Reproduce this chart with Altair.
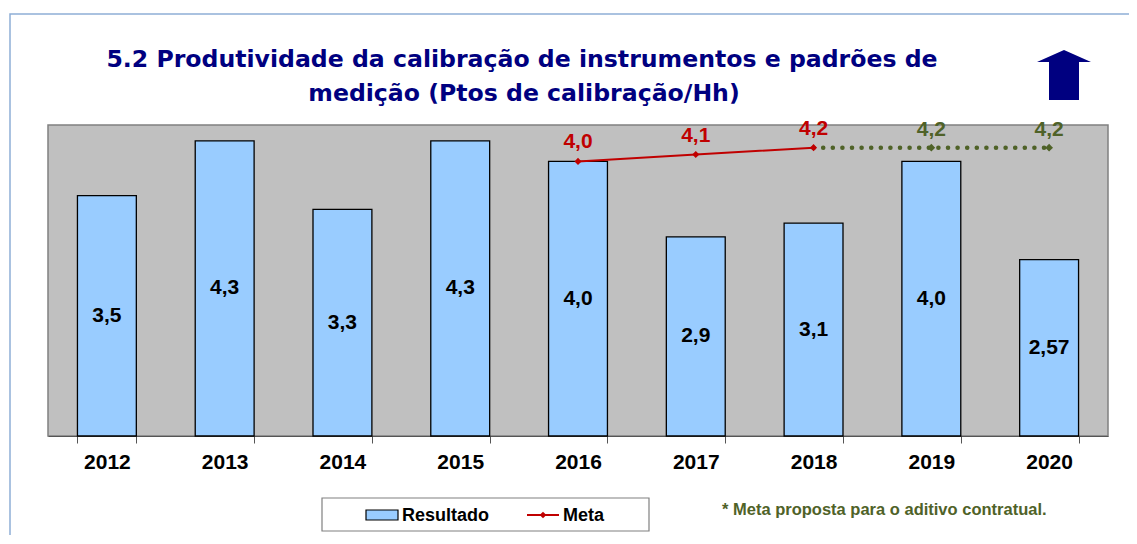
import altair as alt
import pandas as pd

# ---- data ----
years = ["2012", "2013", "2014", "2015", "2016", "2017", "2018", "2019", "2020"]
resultado = [3.5, 4.3, 3.3, 4.3, 4.0, 2.9, 3.1, 4.0, 2.57]
resultado_labels = ["3,5", "4,3", "3,3", "4,3", "4,0", "2,9", "3,1", "4,0", "2,57"]

meta_years = ["2016", "2017", "2018"]
meta = [4.0, 4.1, 4.2]
meta_labels = ["4,0", "4,1", "4,2"]

prop_years = ["2018", "2019", "2020"]
prop = [4.2, 4.2, 4.2]
prop_labels = ["", "4,2", "4,2"]

title_lines = ["5.2 Produtividade da calibração de instrumentos e padrões de",
               "medição (Ptos  de calibração/Hh)"]
legend_items = ["Resultado", "Meta"]
note_text = ["* Meta proposta para o aditivo contratual."]

# ---- tables ----
df_res = pd.DataFrame({"ano": years, "valor": resultado, "rotulo": resultado_labels})
df_meta = pd.DataFrame({"ano": meta_years, "valor": meta, "rotulo": meta_labels})
df_prop = pd.DataFrame({"ano": prop_years, "valor": prop, "rotulo": prop_labels})

W, H = 1060, 311
FONT = "Liberation Sans"
NAVY = "#000080"
RED = "#c00000"
GREEN = "#4f6228"

xenc = alt.X("ano:N",
             scale=alt.Scale(domain=years, paddingInner=0.5, paddingOuter=0.25),
             axis=alt.Axis(title=None, labelAngle=0, labelFont=FONT, labelFontSize=21,
                           labelFontWeight="bold", labelColor="#000000", labelPadding=8,
                           tickBand="extent", tickSize=7, tickColor="#555555",
                           domainColor="#555555", domainWidth=1.2, grid=False))
yscale = alt.Scale(domain=[0, 4.53], nice=False, zero=True)

bars = alt.Chart(df_res).mark_bar(fill="#99ccff", stroke="#000000", strokeWidth=1.3).encode(
    x=xenc, y=alt.Y("valor:Q", scale=yscale, axis=None))

bar_labels = alt.Chart(df_res).transform_calculate(meio="datum.valor / 2").mark_text(
    font=FONT, fontSize=21, fontWeight="bold", color="#000000", baseline="middle"
).encode(x=alt.X("ano:N"), y=alt.Y("meio:Q", scale=yscale, axis=None), text="rotulo:N")

prop_line = alt.Chart(df_prop).mark_line(
    color=GREEN, strokeWidth=4.5, strokeDash=[0.1, 9.5], strokeCap="round"
).encode(x="ano:N", y=alt.Y("valor:Q", scale=yscale, axis=None))

prop_pts = alt.Chart(df_prop).transform_filter("datum.rotulo != ''").mark_point(
    shape="diamond", size=60, filled=True, color=GREEN, opacity=1
).encode(x="ano:N", y=alt.Y("valor:Q", scale=yscale, axis=None))

prop_text = alt.Chart(df_prop).mark_text(
    font=FONT, fontSize=21, fontWeight="bold", color=GREEN, dy=-18, baseline="middle"
).encode(x="ano:N", y=alt.Y("valor:Q", scale=yscale, axis=None), text="rotulo:N")

meta_line = alt.Chart(df_meta).mark_line(
    color=RED, strokeWidth=2,
    point=alt.OverlayMarkDef(shape="diamond", size=50, filled=True, color=RED, opacity=1)
).encode(x="ano:N", y=alt.Y("valor:Q", scale=yscale, axis=None))

meta_text = alt.Chart(df_meta).mark_text(
    font=FONT, fontSize=21, fontWeight="bold", color=RED, dy=-19, baseline="middle"
).encode(x="ano:N", y=alt.Y("valor:Q", scale=yscale, axis=None), text="rotulo:N")

# ---- decorations ----
one = pd.DataFrame({"k": [0]})

frame = alt.Chart(one).mark_rect(fillOpacity=0, stroke="#8eaed6", strokeWidth=1.5).encode(
    x=alt.value(-38), x2=alt.value(1110), y=alt.value(-111), y2=alt.value(440))

title1 = alt.Chart(pd.DataFrame({"t": [title_lines[0]]})).mark_text(
    font="DejaVu Sans", fontSize=23.6, fontWeight="bold", color=NAVY, align="center",
    baseline="alphabetic").encode(text="t:N", x=alt.value(474), y=alt.value(-58))
title2 = alt.Chart(pd.DataFrame({"t": [title_lines[1]]})).mark_text(
    font="DejaVu Sans", fontSize=23.6, fontWeight="bold", color=NAVY, align="center",
    baseline="alphabetic").encode(text="t:N", x=alt.value(476), y=alt.value(-24))

arrow = alt.Chart(one).mark_point(
    shape="M0,-1 L1.08,-0.52 L0.6,-0.52 L0.6,1 L-0.6,1 L-0.6,-0.52 L-1.08,-0.52 Z",
    size=2500, filled=True, color=NAVY, opacity=1
).encode(x=alt.value(1016), y=alt.value(-50))

leg_box = alt.Chart(one).mark_rect(fill="#ffffff", stroke="#808080", strokeWidth=1.2).encode(
    x=alt.value(274), x2=alt.value(601), y=alt.value(373), y2=alt.value(406))
leg_swatch = alt.Chart(one).mark_rect(fill="#99ccff", stroke="#000000", strokeWidth=1.2).encode(
    x=alt.value(318), x2=alt.value(350), y=alt.value(385), y2=alt.value(395))
leg_t1 = alt.Chart(pd.DataFrame({"t": [legend_items[0]]})).mark_text(
    font=FONT, fontSize=18, fontWeight="bold", color="#000000", align="left",
    baseline="middle").encode(text="t:N", x=alt.value(354), y=alt.value(391))
leg_line = alt.Chart(one).mark_rule(color=RED, strokeWidth=2).encode(
    x=alt.value(479), x2=alt.value(511), y=alt.value(390))
leg_pt = alt.Chart(one).mark_point(shape="diamond", size=45, filled=True, color=RED,
                                   opacity=1).encode(x=alt.value(495), y=alt.value(390))
leg_t2 = alt.Chart(pd.DataFrame({"t": [legend_items[1]]})).mark_text(
    font=FONT, fontSize=18, fontWeight="bold", color="#000000", align="left",
    baseline="middle").encode(text="t:N", x=alt.value(515), y=alt.value(391))

note = alt.Chart(pd.DataFrame({"t": note_text})).mark_text(
    font=FONT, fontSize=16.5, fontWeight="bold", color=GREEN, align="left",
    baseline="middle").encode(text="t:N", x=alt.value(674), y=alt.value(385))

chart = alt.layer(
    frame, bars, bar_labels, prop_line, prop_pts, meta_line, prop_text, meta_text,
    title1, title2, arrow, leg_box, leg_swatch, leg_t1, leg_line, leg_pt, leg_t2, note
).properties(
    width=W, height=H,
    autosize=alt.AutoSizeParams(type="none"),
    padding={"left": 40, "top": 117, "right": 21, "bottom": 99},
    background="#ffffff"
).configure_view(fill="#c0c0c0", stroke="#808080", strokeWidth=1.5)

chart.save("out.html", embed_options={"renderer": "svg", "actions": False})
